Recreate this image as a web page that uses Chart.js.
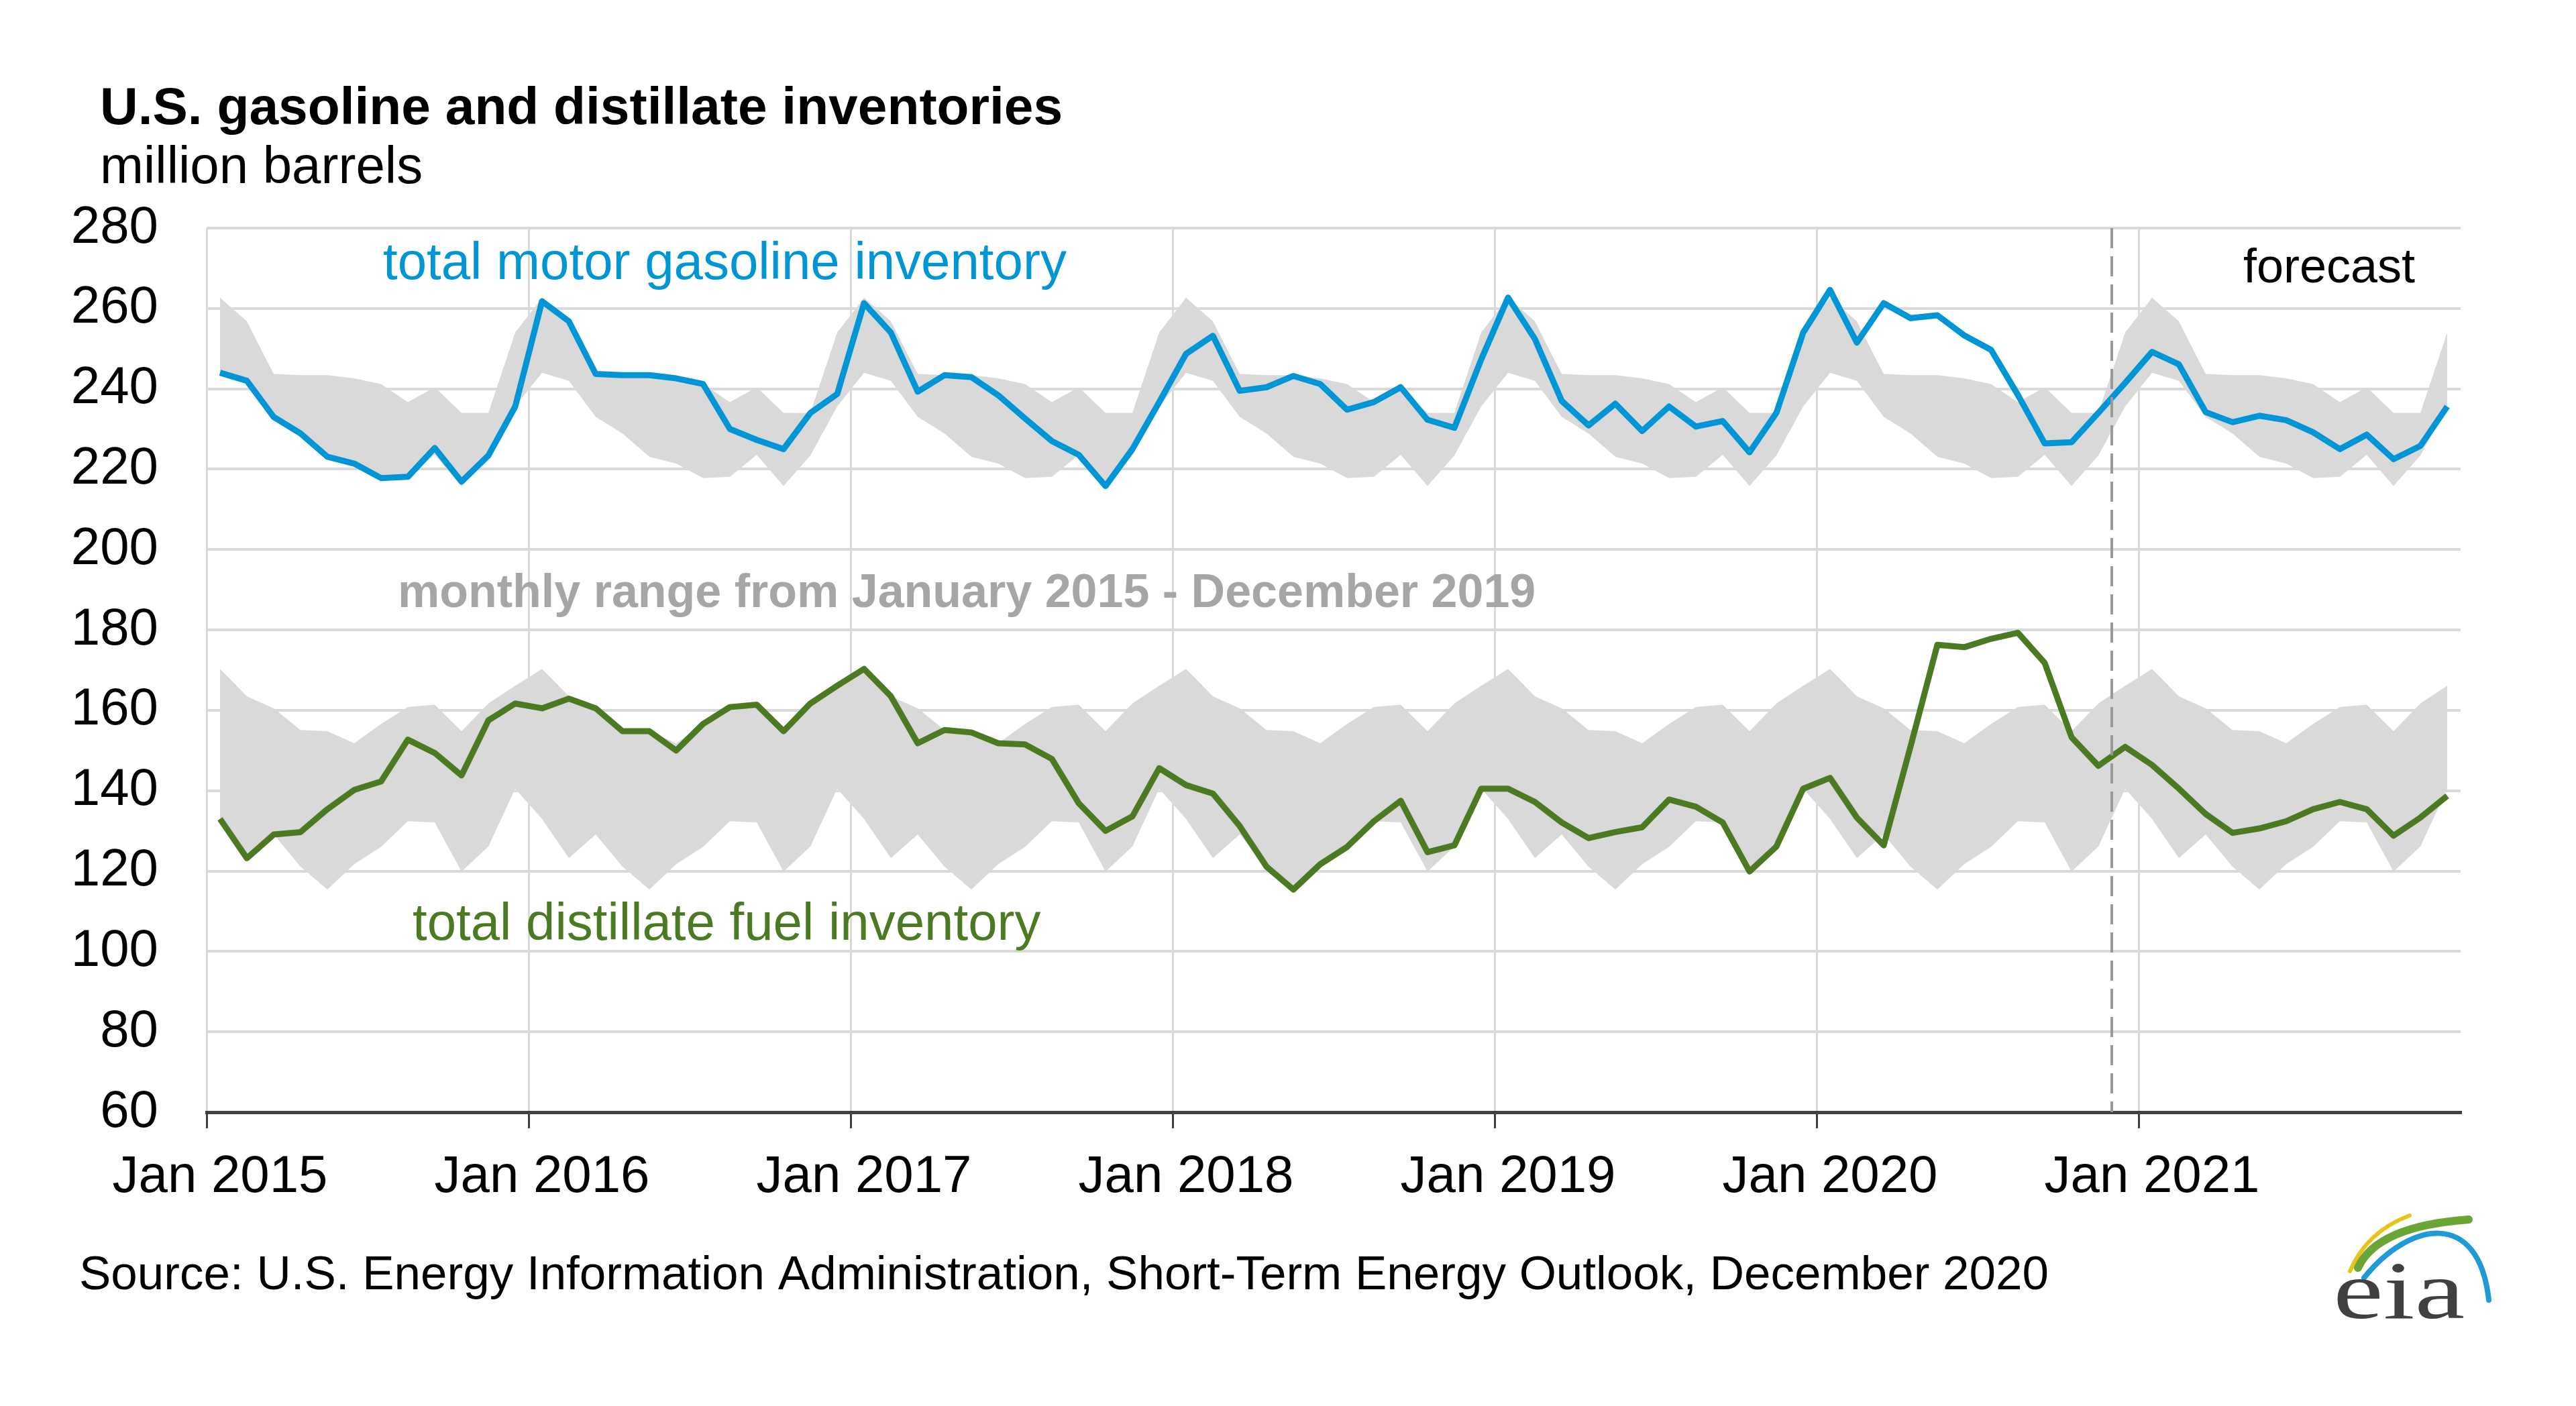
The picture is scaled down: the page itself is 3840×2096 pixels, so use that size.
<!DOCTYPE html>
<html>
<head>
<meta charset="utf-8">
<title>U.S. gasoline and distillate inventories</title>
<script src="https://cdn.jsdelivr.net/npm/chart.js@4.4.1/dist/chart.umd.min.js"></script>
<style>
  html, body { margin: 0; padding: 0; background: #ffffff; }
  #contenedor { width: 3840px; height: 2096px; position: relative; }
</style>
</head>
<body>
<div id="contenedor"><canvas id="grafico"></canvas></div>
<script>
// Meses y años del eje X
var meses = ['Jan', 'Feb', 'Mar', 'Apr', 'May', 'Jun', 'Jul', 'Aug', 'Sep', 'Oct', 'Nov', 'Dec'];
var anios = [2015, 2016, 2017, 2018, 2019, 2020, 2021];

// Inventario total de gasolina (millones de barriles), ene 2015 - dic 2021
var gasolina = [
  244.0, 242.0, 233.0, 228.9, 223.1, 221.4, 217.8, 218.1, 225.3, 216.9, 223.4, 235.6,
  261.8, 256.8, 243.7, 243.4, 243.4, 242.6, 241.2, 230.0, 227.3, 225.0, 234.0, 238.7,
  261.3, 254.0, 239.3, 243.4, 242.9, 238.4, 232.6, 227.0, 223.6, 215.8, 225.0, 236.7,
  248.7, 253.2, 239.5, 240.4, 243.2, 241.2, 234.8, 236.7, 240.4, 232.3, 230.3, 247.3,
  262.7, 252.4, 237.0, 230.9, 236.3, 229.5, 235.6, 230.6, 232.0, 224.2, 234.0, 254.0,
  264.6, 251.5, 261.3, 257.6, 258.3, 253.3, 249.7, 238.5, 226.4, 226.7, 234.0, 241.5,
  249.2, 246.1, 234.2, 231.7, 233.3, 232.2, 229.2, 225.0, 228.6, 222.5, 225.8, 235.6
];

// Inventario total de destilados (millones de barriles)
var destilado = [
  133.0, 123.2, 129.1, 129.7, 135.4, 140.2, 142.3, 152.7, 149.4, 143.8, 157.5, 161.7,
  160.5, 162.9, 160.5, 154.8, 154.8, 150.0, 156.6, 160.8, 161.4, 154.8, 161.7, 166.1,
  170.3, 163.5, 151.8, 155.1, 154.5, 151.8, 151.5, 147.9, 136.9, 130.0, 133.6, 145.6,
  141.4, 139.3, 131.2, 121.1, 115.4, 121.7, 126.0, 132.4, 137.5, 124.7, 126.4, 140.5,
  140.5, 137.2, 132.1, 128.2, 129.7, 130.9, 137.8, 136.0, 132.1, 119.9, 126.1, 140.5,
  143.2, 133.3, 126.4, 151.0, 176.3, 175.7, 177.8, 179.3, 171.8, 153.3, 146.2, 150.9,
  146.4, 140.5, 134.2, 129.5, 130.6, 132.4, 135.4, 137.2, 135.4, 128.8, 133.3, 138.7
];

// Rango mensual 2015-2019 (máximo y mínimo por mes)
var gasRangoMax = [262.7, 256.8, 243.7, 243.4, 243.4, 242.6, 241.2, 236.7, 240.4, 234.0, 234.0, 254.0];
var gasRangoMin = [244.0, 242.0, 233.0, 228.9, 223.1, 221.4, 217.8, 218.1, 223.6, 215.8, 223.4, 235.6];
var destRangoMax = [170.3, 163.5, 160.5, 155.1, 154.8, 151.8, 156.6, 160.8, 161.4, 154.8, 161.7, 166.1];
var destRangoMin = [133.0, 123.2, 129.1, 121.1, 115.4, 121.7, 126.0, 132.4, 132.1, 119.9, 126.1, 140.5];

// Primer mes del pronóstico (dic 2020)
var inicioPronostico = 'Dec 2020';

var azul = '#0096d6';
var verde = '#4b7a22';
var gris = '#d9d9d9';
var fuente = '"Liberation Sans", Arial, sans-serif';

var etiquetas = [];
anios.forEach(function (a) {
  meses.forEach(function (m) { etiquetas.push(m + ' ' + a); });
});

// El rango de cinco años se repite cada año
function repetirRango(rango) {
  return etiquetas.map(function (_, i) { return rango[i % 12]; });
}

Chart.defaults.font.family = fuente;
Chart.defaults.color = '#000';

// Títulos, textos, línea de pronóstico y logo
var anotaciones = {
  id: 'anotaciones',
  afterDatasetsDraw: function (chart) {
    var ctx = chart.ctx;
    var x = chart.scales.x;
    var area = chart.chartArea;
    var i = etiquetas.indexOf(inicioPronostico);
    var xf = (x.getPixelForValue(i - 1) + x.getPixelForValue(i)) / 2;

    ctx.save();
    ctx.strokeStyle = '#999999';
    ctx.lineWidth = 4;
    ctx.setLineDash([30, 12]);
    ctx.beginPath();
    ctx.moveTo(xf, area.top);
    ctx.lineTo(xf, area.bottom);
    ctx.stroke();
    ctx.restore();
  },
  afterDraw: function (chart) {
    var ctx = chart.ctx;
    ctx.save();
    ctx.textBaseline = 'alphabetic';
    ctx.textAlign = 'left';

    ctx.fillStyle = '#000';
    ctx.font = 'bold 78.5px ' + fuente;
    ctx.fillText('U.S. gasoline and distillate inventories', 149, 185);
    ctx.font = '78px ' + fuente;
    ctx.fillText('million barrels', 149, 273);

    ctx.fillStyle = azul;
    ctx.fillText('total motor gasoline inventory', 571, 416);

    ctx.font = 'bold 70px ' + fuente;
    ctx.fillStyle = '#a6a6a6';
    ctx.fillText('monthly range from January 2015 - December 2019', 593, 905);

    ctx.font = '78px ' + fuente;
    ctx.fillStyle = verde;
    ctx.fillText('total distillate fuel inventory', 615, 1401);

    ctx.font = '72px ' + fuente;
    ctx.fillStyle = '#000';
    ctx.textAlign = 'right';
    ctx.fillText('forecast', 3600, 421);

    ctx.textAlign = 'left';
    ctx.font = '71px ' + fuente;
    ctx.fillText('Source: U.S. Energy Information Administration, Short-Term Energy Outlook, December 2020', 118, 1922);

    // logo eia
    ctx.lineCap = 'round';
    ctx.strokeStyle = '#e9c31c';
    ctx.lineWidth = 6;
    ctx.beginPath();
    ctx.moveTo(3503, 1895);
    ctx.quadraticCurveTo(3528, 1836, 3592, 1812);
    ctx.stroke();

    ctx.strokeStyle = '#6aa535';
    ctx.lineWidth = 12;
    ctx.beginPath();
    ctx.moveTo(3515, 1890);
    ctx.quadraticCurveTo(3543, 1828, 3680, 1818);
    ctx.stroke();

    ctx.strokeStyle = '#1e9bd7';
    ctx.lineWidth = 8;
    ctx.beginPath();
    ctx.moveTo(3524, 1905);
    ctx.bezierCurveTo(3590, 1822, 3695, 1800, 3710, 1938);
    ctx.stroke();

    ctx.fillStyle = '#404040';
    ctx.font = '122px "Liberation Serif", serif';
    ctx.translate(3478, 1965);
    ctx.scale(1.38, 1);
    ctx.fillText('eia', 0, 0);
    ctx.restore();
  }
};

function serieRango(etiqueta, datos, relleno) {
  return {
    label: etiqueta,
    data: datos,
    borderColor: 'rgba(0,0,0,0)',
    borderWidth: 1,
    backgroundColor: gris,
    pointRadius: 0,
    tension: 0,
    fill: relleno
  };
}

new Chart(document.getElementById('grafico').getContext('2d'), {
  type: 'line',
  data: {
    labels: etiquetas,
    datasets: [
      {
        label: 'total motor gasoline inventory',
        data: gasolina,
        borderColor: azul,
        borderWidth: 9,
        borderJoinStyle: 'round',
        pointRadius: 0,
        tension: 0,
        fill: false
      },
      {
        label: 'total distillate fuel inventory',
        data: destilado,
        borderColor: verde,
        borderWidth: 9,
        borderJoinStyle: 'round',
        pointRadius: 0,
        tension: 0,
        fill: false
      },
      serieRango('gasoline range max', repetirRango(gasRangoMax), '+1'),
      serieRango('gasoline range min', repetirRango(gasRangoMin), false),
      serieRango('distillate range max', repetirRango(destRangoMax), '+1'),
      serieRango('distillate range min', repetirRango(destRangoMin), false)
    ]
  },
  options: {
    responsive: true,
    maintainAspectRatio: false,
    animation: false,
    layout: { padding: { left: 104, right: 172, top: 340, bottom: 298 } },
    plugins: {
      legend: { display: false },
      tooltip: { enabled: false }
    },
    scales: {
      x: {
        type: 'category',
        offset: true,
        grid: {
          offset: true,
          color: function (c) { return c.index % 12 === 0 ? gris : 'rgba(0,0,0,0)'; },
          lineWidth: 3,
          drawTicks: true,
          tickLength: 24,
          tickColor: function (c) { return c.index % 12 === 0 ? '#404040' : 'rgba(0,0,0,0)'; },
          tickWidth: 3
        },
        border: { display: true, color: '#404040', width: 5 },
        ticks: {
          autoSkip: false,
          maxRotation: 0,
          minRotation: 0,
          padding: 27,
          color: '#000',
          font: { size: 78 },
          callback: function (valor, i) {
            return i % 12 === 0 ? this.getLabelForValue(valor) : '';
          }
        },
        afterFit: function (escala) { escala.height = 140; }
      },
      y: {
        min: 60,
        max: 280,
        ticks: { stepSize: 20, padding: 72, color: '#000', font: { size: 78 } },
        grid: {
          color: function (c) { return c.tick && c.tick.value === 60 ? 'rgba(0,0,0,0)' : gris; },
          lineWidth: 4,
          drawTicks: false
        },
        border: { display: false },
        afterFit: function (escala) { escala.width = 204; }
      }
    }
  },
  plugins: [anotaciones]
});
</script>
</body>
</html>
